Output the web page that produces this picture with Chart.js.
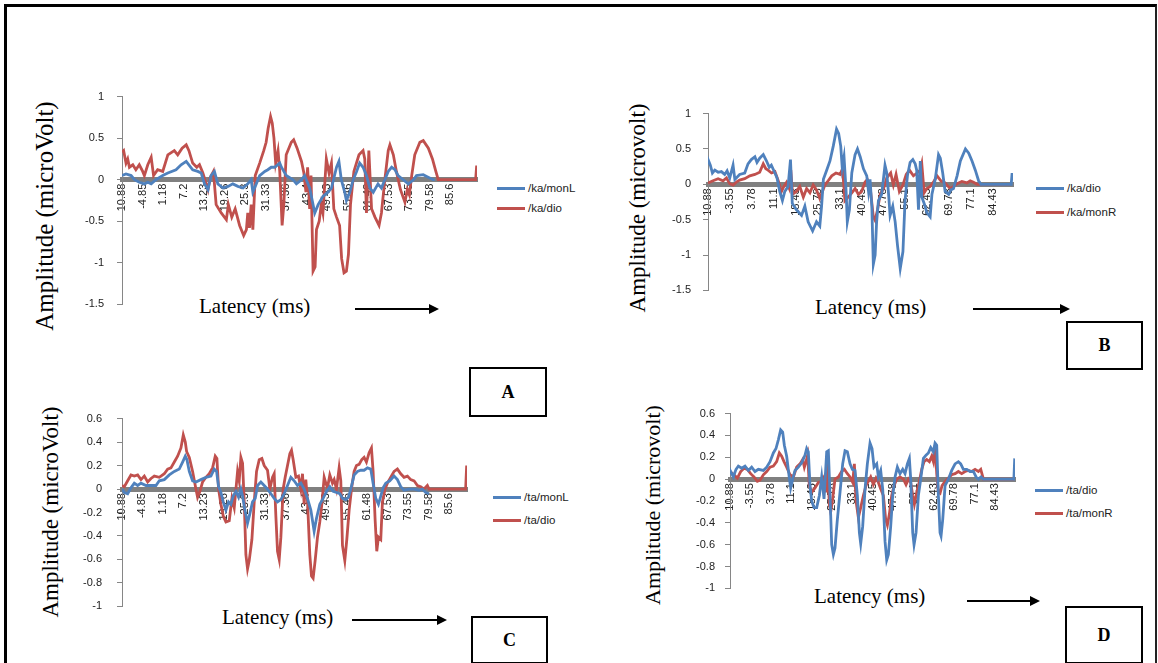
<!DOCTYPE html>
<html><head><meta charset="utf-8">
<script src="https://cdn.jsdelivr.net/npm/chart.js@4.4.1/dist/chart.umd.min.js"></script>
<style>
html,body{margin:0;padding:0;background:#fff;}
#page{position:relative;width:1158px;height:663px;overflow:hidden;background:#fff;}
.frame{position:absolute;left:4px;top:4px;width:1148px;height:720px;border-left:3px solid #000;border-top:3px solid #000;border-right:2px solid #222;}
canvas{position:absolute;}
.ytitle{position:absolute;font-family:"Liberation Serif","Times New Roman",serif;white-space:nowrap;line-height:1;color:#000;}
.xtitle{position:absolute;font-family:"Liberation Serif","Times New Roman",serif;font-size:21px;white-space:nowrap;line-height:1;color:#000;}
.arrow{position:absolute;height:2px;background:#000;}
.arrow:after{content:'';position:absolute;right:-9px;top:-4px;border-left:10px solid #000;border-top:5px solid transparent;border-bottom:5px solid transparent;}
.box{position:absolute;border:2px solid #000;font-family:"Liberation Serif","Times New Roman",serif;font-weight:bold;font-size:18px;display:flex;align-items:center;justify-content:center;box-sizing:border-box;background:#fff;}
.legrow{position:absolute;font-family:"Liberation Sans",Arial,sans-serif;font-size:11.5px;color:#222;white-space:nowrap;line-height:12px;}
.legrow span.sw{position:absolute;left:0;top:5px;width:28px;height:3px;}
.legrow span.tx{position:absolute;left:31px;top:0;}
</style></head>
<body><div id="page">
<div class="frame"></div>
</div>
<script>
// ---------- tick labels (category labels of the original chart) ----------
const ticksAC = ['-10.88','-4.85','1.18','7.2','13.23','19.26','25.3','31.33','37.36','43.4','49.43','55.46','61.48','67.53','73.55','79.58','85.6'];
const ticksBD = ['-10.88','-3.55','3.78','11.1','18.43','25.78','33.1','40.45','47.78','55.1','62.43','69.78','77.1','84.43'];

// ---------- series: [latency ms, amplitude µV] ----------
const kaMonL_A = [[-10.88,0.05],[-9.7,0.07],[-8.2,0.05],[-7.2,0.0],[-5.8,-0.03],[-4.3,-0.05],[-3.3,-0.03],[-2.3,-0.05],[-0.9,0.0],[1.1,0.05],[2.6,0.08],[5.0,0.12],[6.5,0.18],[8.0,0.22],[9.9,0.12],[11.4,0.1],[12.4,0.08],[13.4,-0.05],[14.4,-0.12],[15.3,0.05],[16.3,0.1],[17.3,-0.05],[18.8,-0.1],[20.3,-0.08],[21.7,-0.05],[23.2,-0.08],[24.7,-0.1],[26.1,-0.05],[27.1,0.0],[27.6,-0.15],[28.6,-0.05],[29.6,0.05],[31.1,0.1],[32.0,0.12],[33.0,0.15],[34.0,0.15],[35.5,0.2],[36.0,0.15],[37.4,0.05],[39.4,0.0],[40.4,-0.05],[41.9,0.0],[42.8,0.05],[44.3,-0.1],[45.8,-0.4],[46.8,-0.3],[48.2,-0.2],[49.7,-0.15],[50.7,-0.1],[52.2,0.15],[52.9,0.22],[53.6,0.0],[54.6,-0.15],[55.1,-0.25],[56.1,-0.15],[57.1,0.0],[58.1,0.1],[59.0,0.2],[60.0,0.15],[61.0,0.05],[62.0,-0.1],[63.0,-0.15],[64.4,-0.05],[65.4,-0.1],[66.4,0.0],[67.4,0.1],[68.4,0.15],[69.4,0.12],[70.3,0.05],[71.8,0.0],[73.3,-0.05],[74.8,0.0],[75.7,0.05],[77.7,0.06],[78.7,0.04],[80.6,0.0],[81.1,0.0]];
const kaDio_A = [[-10.88,0.33],[-10.4,0.35],[-9.7,0.2],[-9.2,0.25],[-8.7,0.15],[-7.7,0.18],[-6.8,0.12],[-5.8,0.18],[-4.8,0.1],[-4.3,0.05],[-3.3,0.18],[-2.3,0.27],[-1.6,0.05],[-0.4,0.12],[1.1,0.1],[2.6,0.3],[4.5,0.35],[5.5,0.3],[6.8,0.38],[8.0,0.42],[8.8,0.35],[9.9,0.2],[11.1,0.15],[11.9,0.18],[12.9,0.08],[14.4,-0.12],[15.0,0.02],[16.0,0.1],[16.8,-0.3],[18.3,-0.4],[19.8,-0.48],[20.4,-0.3],[21.4,-0.45],[22.4,-0.35],[23.7,-0.55],[24.9,-0.67],[25.7,-0.6],[26.1,-0.4],[26.6,-0.58],[27.1,-0.3],[27.6,-0.6],[28.3,0.05],[29.6,0.2],[30.8,0.35],[31.5,0.45],[32.1,0.62],[32.8,0.76],[33.3,0.68],[33.8,0.5],[34.3,0.2],[35.0,0.35],[35.5,0.1],[36.2,-0.55],[36.7,-0.3],[37.4,0.3],[38.9,0.45],[39.6,0.48],[40.6,0.38],[41.9,0.22],[42.6,0.08],[43.2,-0.15],[43.7,0.15],[44.3,-0.35],[44.7,0.05],[45.3,-1.1],[45.9,-1.05],[46.3,-0.6],[47.1,-0.5],[47.7,-0.3],[48.2,-0.4],[49.2,0.25],[50.0,0.08],[50.7,0.2],[51.4,-0.35],[52.2,-0.45],[53.1,-0.55],[53.7,-0.95],[54.4,-1.12],[55.1,-1.1],[55.7,-0.9],[56.3,-0.3],[57.3,0.1],[58.8,0.3],[60.0,0.35],[60.5,0.25],[61.0,-0.4],[61.7,0.35],[62.5,-0.35],[63.5,-0.45],[64.7,-0.55],[65.4,-0.4],[66.4,0.0],[67.4,0.35],[67.9,0.42],[68.9,0.3],[69.8,0.1],[71.0,-0.12],[72.3,-0.27],[73.0,-0.12],[73.6,-0.18],[74.3,0.05],[75.2,0.3],[76.7,0.45],[77.7,0.47],[79.2,0.38],[80.4,0.25],[81.4,0.1],[82.1,0.0],[93.1,0.0],[93.4,0.17]];

const kaDio_B = [[-10.88,0.3],[-10.66,0.33],[-10.1,0.27],[-9.4,0.16],[-8.6,0.2],[-7.5,0.17],[-6.4,0.18],[-5.3,0.14],[-4.5,0.19],[-3.6,0.09],[-2.5,0.27],[-1.9,0.07],[-0.3,0.14],[1.4,0.16],[2.5,0.29],[3.6,0.35],[4.8,0.39],[5.5,0.31],[6.4,0.37],[7.6,0.42],[8.7,0.33],[9.6,0.24],[10.3,0.27],[11.5,0.16],[12.2,0.09],[13.1,-0.1],[14.0,-0.23],[14.8,-0.1],[15.9,-0.03],[16.7,0.35],[17.3,-0.27],[18.7,-0.36],[20.4,-0.44],[21.5,-0.31],[22.6,-0.53],[24.1,-0.66],[25.4,-0.53],[26.5,-0.59],[27.1,-0.31],[27.7,0.07],[28.8,0.2],[29.9,0.33],[31.0,0.54],[32.1,0.78],[32.8,0.72],[33.5,0.54],[34.0,0.24],[34.6,0.39],[35.3,-0.1],[35.7,-0.53],[36.4,-0.36],[37.2,0.16],[38.3,0.42],[39.1,0.5],[40.0,0.39],[41.1,0.22],[42.2,0.12],[42.8,-0.1],[43.3,0.07],[43.9,-0.31],[44.4,-1.13],[45.0,-1.0],[45.5,-0.53],[46.1,-0.23],[47.2,-0.14],[48.3,0.27],[48.9,0.16],[49.5,-0.14],[50.0,-0.44],[50.9,-0.31],[51.7,-0.53],[52.5,-0.87],[53.4,-1.19],[54.3,-0.95],[55.0,-0.23],[55.8,0.12],[56.7,0.31],[57.6,0.35],[58.4,0.29],[58.9,0.2],[59.5,-0.36],[60.1,0.33],[60.6,-0.18],[61.4,-0.27],[62.3,-0.4],[63.4,-0.46],[64.0,-0.14],[65.1,0.07],[66.2,0.42],[66.8,0.37],[67.6,0.16],[68.4,-0.1],[69.6,-0.14],[70.3,-0.08],[71.2,-0.06],[72.4,0.12],[73.5,0.33],[75.2,0.5],[76.3,0.44],[77.4,0.33],[78.5,0.2],[79.6,0.05],[80.4,0.0],[90.5,0.0],[90.8,0.16]];
const kaMonR_B = [[-10.88,0.02],[-10.66,0.02],[-9.2,0.05],[-7.5,0.08],[-5.85,0.05],[-4.7,0.09],[-3.6,0.01],[-2.5,-0.01],[-1.4,0.03],[-0.3,0.06],[1.4,0.08],[3.1,0.12],[4.8,0.14],[6.4,0.17],[7.6,0.29],[8.45,0.22],[9.2,0.2],[10.35,0.16],[11.5,0.18],[12.6,0.05],[13.7,-0.1],[14.5,-0.03],[15.4,0.03],[16.3,-0.06],[16.8,0.2],[17.4,-0.14],[18.7,-0.1],[19.8,-0.03],[21.0,-0.18],[22.1,-0.06],[23.2,-0.12],[24.3,-0.01],[25.4,-0.08],[26.5,-0.2],[27.4,-0.1],[28.2,-0.01],[29.3,0.05],[30.5,0.12],[31.9,0.16],[33.3,0.14],[34.1,0.22],[34.9,-0.23],[36.0,-0.18],[37.2,-0.12],[38.3,-0.06],[39.4,-0.14],[40.5,-0.1],[41.6,0.03],[42.4,0.07],[43.3,-0.03],[44.4,-0.46],[45.0,-0.51],[45.8,-0.36],[46.7,-0.14],[47.8,-0.06],[48.9,0.09],[50.2,0.16],[51.1,-0.01],[52.0,0.14],[53.1,-0.1],[54.3,-0.01],[55.4,0.14],[56.5,0.2],[57.8,0.12],[59.0,0.16],[60.1,0.2],[60.6,0.29],[61.4,-0.12],[62.3,-0.06],[63.4,-0.03],[64.5,0.03],[65.7,0.12],[67.0,0.05],[68.4,0.02],[70.1,-0.06],[71.2,-0.03],[72.4,0.01],[74.0,0.04],[75.7,0.02],[76.8,0.05],[77.9,0.03],[79.1,0.0],[81.3,0.0],[90.2,0.0]];

const taMonL_C = [[-10.88,0.0],[-10.19,-0.03],[-9.21,-0.04],[-8.23,0.01],[-7.25,0.05],[-6.26,0.03],[-5.28,0.05],[-3.81,0.03],[-2.33,0.03],[-0.86,0.03],[0.12,0.07],[1.6,0.08],[3.07,0.12],[4.55,0.15],[6.02,0.17],[7.0,0.23],[7.79,0.28],[8.28,0.25],[8.97,0.15],[9.95,0.07],[10.93,0.06],[12.4,0.08],[13.88,0.1],[15.35,0.11],[16.33,0.17],[17.02,0.15],[17.61,0.02],[18.3,-0.03],[18.99,-0.11],[19.78,-0.18],[20.56,-0.11],[21.25,-0.13],[21.93,-0.06],[22.72,-0.02],[23.51,-0.07],[24.19,0.0],[24.69,-0.06],[25.38,-0.18],[26.16,-0.29],[26.85,-0.21],[27.63,-0.11],[28.42,-0.08],[29.11,0.03],[30.09,0.06],[31.07,0.03],[32.05,0.0],[33.04,-0.04],[34.02,-0.08],[35.0,-0.11],[35.99,-0.09],[36.97,-0.04],[37.95,0.03],[38.93,0.1],[39.91,0.07],[40.9,0.03],[41.88,0.05],[42.86,0.0],[43.84,-0.08],[44.83,-0.18],[45.81,-0.36],[46.5,-0.25],[47.48,-0.13],[48.46,-0.08],[49.45,-0.02],[50.43,0.02],[51.41,-0.02],[52.39,-0.03],[53.38,-0.04],[54.16,-0.08],[55.14,-0.09],[55.93,-0.07],[56.62,0.0],[57.6,0.12],[58.58,0.15],[59.57,0.16],[60.55,0.16],[61.53,0.18],[62.51,0.17],[63.2,0.05],[63.99,-0.08],[64.77,-0.13],[65.46,-0.06],[66.15,0.01],[66.93,0.05],[68.11,0.07],[69.39,0.11],[70.37,0.08],[71.35,0.02],[72.33,-0.01],[73.81,0.0],[75.29,0.0],[76.76,-0.01],[77.74,0.0],[78.73,-0.03],[79.7,-0.04]];
const taDio_C = [[-10.88,0.03],[-10.19,0.02],[-9.21,0.07],[-8.23,0.12],[-7.25,0.11],[-6.26,0.12],[-5.28,0.08],[-4.3,0.11],[-3.31,0.06],[-2.33,0.09],[-1.35,0.11],[0.12,0.1],[1.6,0.13],[2.58,0.17],[3.56,0.18],[4.55,0.23],[5.53,0.28],[6.51,0.35],[7.2,0.46],[7.79,0.4],[8.18,0.32],[8.97,0.27],[9.95,0.15],[10.93,0.0],[11.42,-0.07],[12.11,-0.02],[12.9,0.06],[13.88,0.1],[14.86,0.13],[15.84,0.18],[16.63,0.28],[17.12,0.26],[17.61,0.0],[18.3,-0.13],[18.99,-0.23],[19.78,-0.28],[20.76,-0.27],[21.55,-0.08],[22.23,-0.16],[23.21,0.15],[23.7,0.07],[24.19,0.27],[24.69,0.22],[25.18,-0.11],[25.67,-0.56],[26.16,-0.68],[26.65,-0.61],[27.44,-0.43],[28.13,-0.11],[28.81,0.15],[29.6,0.25],[30.38,0.26],[31.07,0.2],[32.05,0.16],[32.74,0.0],[33.53,0.1],[34.02,0.13],[34.51,-0.23],[35.0,-0.53],[35.5,-0.6],[35.99,-0.41],[36.67,0.0],[37.26,0.1],[37.95,0.2],[38.64,0.3],[39.13,0.33],[39.62,0.25],[40.41,0.1],[41.19,0.11],[41.88,0.0],[42.37,0.13],[42.86,-0.13],[43.35,0.08],[43.84,-0.1],[44.53,-0.56],[45.02,-0.74],[45.51,-0.76],[46.1,-0.61],[46.79,-0.41],[47.48,-0.28],[48.07,-0.13],[48.76,0.1],[49.25,0.05],[49.74,0.01],[50.43,0.12],[51.21,0.05],[51.71,0.08],[52.39,0.0],[53.18,0.18],[53.67,0.07],[54.16,-0.48],[54.85,-0.61],[55.44,-0.43],[56.13,-0.18],[56.91,0.02],[57.6,0.15],[58.29,0.2],[59.07,0.21],[59.86,0.25],[60.55,0.27],[61.23,0.23],[62.02,0.31],[62.71,0.35],[63.2,0.15],[63.79,-0.26],[64.28,-0.53],[64.77,-0.41],[65.46,-0.43],[65.95,-0.11],[66.73,0.0],[67.42,0.05],[68.41,0.1],[69.39,0.15],[70.37,0.17],[71.35,0.13],[72.33,0.1],[73.32,0.11],[74.3,0.08],[75.29,0.07],[76.27,0.03],[77.25,0.02],[78.23,0.0],[79.21,0.03],[79.7,0.0],[90.5,0.0],[90.8,0.2]];

const taDio_D = [[-10.88,0.06],[-10.64,0.07],[-9.68,0.02],[-8.72,0.09],[-7.88,0.12],[-6.68,0.1],[-5.48,0.12],[-4.29,0.08],[-3.09,0.11],[-1.89,0.07],[-0.69,0.09],[1.11,0.08],[2.31,0.11],[3.51,0.16],[4.71,0.24],[5.66,0.28],[6.5,0.36],[7.34,0.45],[8.06,0.43],[8.66,0.31],[9.5,0.21],[10.46,0.01],[10.94,-0.08],[11.66,0.0],[12.5,0.08],[13.7,0.11],[14.9,0.15],[16.1,0.22],[16.7,0.28],[17.29,0.25],[17.89,-0.06],[18.49,-0.2],[19.33,-0.26],[20.29,-0.26],[21.25,-0.15],[22.09,0.02],[22.93,-0.18],[23.89,0.25],[24.49,0.26],[25.09,-0.15],[25.69,-0.6],[26.29,-0.69],[26.88,-0.63],[27.72,-0.37],[28.68,-0.12],[29.64,0.14],[30.48,0.26],[31.32,0.25],[32.28,0.14],[33.12,0.09],[34.08,0.08],[34.92,-0.15],[35.64,-0.49],[36.12,-0.59],[36.84,-0.43],[37.68,-0.09],[38.51,0.14],[39.47,0.33],[40.19,0.28],[40.91,0.11],[41.87,0.14],[42.47,0.02],[43.31,0.08],[44.03,-0.09],[44.87,-0.57],[45.47,-0.74],[46.07,-0.69],[46.91,-0.43],[47.63,-0.15],[48.47,0.02],[49.3,0.11],[50.26,0.05],[51.22,0.09],[52.06,0.05],[52.9,0.14],[53.62,0.19],[54.1,0.0],[54.82,-0.49],[55.3,-0.6],[56.02,-0.49],[56.86,-0.15],[57.7,0.0],[58.66,0.19],[59.61,0.22],[60.45,0.24],[61.29,0.29],[62.25,0.25],[62.85,0.33],[63.45,0.31],[64.05,-0.15],[64.65,-0.49],[65.01,-0.52],[65.61,-0.37],[66.45,-0.06],[67.65,0.0],[68.85,0.08],[70.05,0.14],[71.24,0.16],[72.08,0.14],[73.04,0.09],[74.24,0.09],[75.44,0.07],[76.64,0.07],[77.6,0.02],[78.44,0.0],[79.4,0.02],[80.24,0.0],[91.2,0.0],[91.5,0.19]];
const taMonR_D = [[-10.88,0.07],[-10.64,0.07],[-9.44,0.04],[-8.24,0.01],[-7.04,0.07],[-5.85,0.1],[-4.65,0.09],[-3.45,0.05],[-2.25,0.02],[-1.05,-0.02],[-0.09,-0.01],[1.11,0.04],[2.31,0.07],[3.51,0.11],[4.71,0.12],[5.9,0.16],[6.86,0.24],[7.7,0.21],[8.54,0.16],[9.5,0.11],[10.7,0.04],[11.9,0.02],[13.1,0.11],[14.3,0.14],[15.26,0.18],[15.86,0.11],[16.46,0.16],[17.05,0.22],[17.65,-0.06],[18.49,-0.12],[19.69,-0.08],[20.89,-0.03],[22.09,-0.02],[22.93,0.02],[23.65,-0.12],[24.13,0.15],[24.85,-0.23],[25.33,-0.3],[25.93,-0.2],[26.88,0.0],[28.08,0.02],[29.28,0.07],[30.24,0.09],[31.32,0.05],[32.28,0.02],[33.24,-0.03],[33.84,0.14],[34.44,-0.2],[35.28,-0.35],[36.12,-0.26],[37.08,-0.15],[38.03,-0.06],[38.87,-0.02],[39.71,0.02],[40.67,-0.05],[41.63,0.01],[42.47,-0.03],[43.31,-0.09],[44.27,-0.15],[45.11,-0.37],[45.71,-0.42],[46.43,-0.32],[47.27,-0.15],[48.11,-0.06],[49.07,0.0],[50.26,0.02],[51.46,0.0],[52.42,-0.05],[53.26,0.0],[54.1,-0.03],[54.82,-0.15],[55.42,-0.23],[56.26,-0.12],[57.22,-0.02],[58.06,0.09],[58.9,0.16],[59.85,0.18],[60.81,0.16],[61.65,0.21],[62.25,0.16],[62.85,0.31],[63.45,0.05],[64.05,-0.12],[64.65,-0.13],[65.37,-0.06],[66.45,-0.02],[67.65,0.01],[68.85,0.04],[70.05,0.05],[71.24,0.07],[72.44,0.05],[73.64,0.07],[74.84,0.08],[76.04,0.07],[77.24,0.09],[78.44,0.07],[79.28,0.09],[80.24,0.0],[91.2,0.0]];

const BLUE = '#4F81BD', RED = '#C0504D';

// ---------- panel definitions (layout only) ----------
const panels = [
  {id:'A', box:[62,77,425,247], xMax:93.5, yMin:-1.5, yMax:1, yStep:0.5, ticks:ticksAC, yPad:13,
   series:[{name:'/ka/monL', data:kaMonL_A, color:BLUE},{name:'/ka/dio', data:kaDio_A, color:RED}],
   ytitle:'Amplitude (microVolt)', yt:[44,216,25], xt:[199,296], arrow:[355,308,75], legend:[497,182,20], label:[469,367,78,50]},
  {id:'B', box:[648,95,375,214], xMax:91.1, yMin:-1.5, yMax:1, yStep:0.5, ticks:ticksBD, yPad:12,
   series:[{name:'/ka/dio', data:kaDio_B, color:BLUE},{name:'/ka/monR', data:kaMonR_B, color:RED}],
   ytitle:'Amplitude (microvolt)', yt:[637,208,23], xt:[815,297], arrow:[973,308,88], legend:[1036,182,24], label:[1066,321,77,49]},
  {id:'C', box:[62,397,415,231], xMax:90.9, yMin:-1, yMax:0.6, yStep:0.2, ticks:ticksAC, yPad:15,
   series:[{name:'/ta/monL', data:taMonL_C, color:BLUE},{name:'/ta/dio', data:taDio_C, color:RED}],
   ytitle:'Amplitude (microVolt)', yt:[50,512,23], xt:[222,607], arrow:[352,619,86], legend:[493,491,23], label:[471,616,77,48]},
  {id:'D', box:[670,397,355,208], xMax:91.6, yMin:-1, yMax:0.6, yStep:0.2, ticks:ticksBD, yPad:10,
   series:[{name:'/ta/dio', data:taDio_D, color:BLUE},{name:'/ta/monR', data:taMonR_D, color:RED}],
   ytitle:'Amplitude (microvolt)', yt:[653,505,22], xt:[814,586], arrow:[967,600,64], legend:[1035,484,23], label:[1065,606,78,58]}
];

Chart.defaults.font.family = '"Liberation Sans", Arial, sans-serif';
const page = document.getElementById('page');

function el(cls, css, text){
  const d = document.createElement('div');
  d.className = cls; Object.assign(d.style, css);
  if (text !== undefined) d.textContent = text;
  page.appendChild(d); return d;
}

panels.forEach(p => {
  el('ytitle', {left:p.yt[0]+'px', top:p.yt[1]+'px', fontSize:p.yt[2]+'px', transform:'translate(-50%,-50%) rotate(-90deg)'}, p.ytitle);
  el('xtitle', {left:p.xt[0]+'px', top:p.xt[1]+'px'}, 'Latency (ms)');
  el('arrow', {left:p.arrow[0]+'px', top:p.arrow[1]+'px', width:p.arrow[2]+'px'});
  p.series.forEach((s, i) => {
    const r = el('legrow', {left:p.legend[0]+'px', top:(p.legend[1] + i*p.legend[2])+'px', width:'90px', height:'14px'});
    const sw = document.createElement('span'); sw.className='sw'; sw.style.background = s.color; r.appendChild(sw);
    const tx = document.createElement('span'); tx.className='tx'; tx.textContent = s.name; r.appendChild(tx);
  });
  el('box', {left:p.label[0]+'px', top:p.label[1]+'px', width:p.label[2]+'px', height:p.label[3]+'px'}, p.id);

  const cv = document.createElement('canvas');
  cv.width = p.box[2]; cv.height = p.box[3];
  Object.assign(cv.style, {left:p.box[0]+'px', top:p.box[1]+'px', width:p.box[2]+'px', height:p.box[3]+'px'});
  page.appendChild(cv);

  new Chart(cv.getContext('2d'), {
    type: 'line',
    data: {
      datasets: p.series.map(s => ({
        label: s.name,
        data: s.data.map(d => ({x: d[0], y: d[1]})),
        borderColor: s.color, backgroundColor: s.color,
        borderWidth: 2.8, pointRadius: 0, tension: 0, fill: false
      }))
    },
    options: {
      responsive: false, animation: false, devicePixelRatio: 1,
      layout: {padding: {left: 15, right: 10, top: 10, bottom: 10}},
      plugins: {legend: {display: false}, tooltip: {enabled: false}},
      scales: {
        x: {
          type: 'linear', min: -10.88, max: p.xMax, position: {y: 0},
          afterBuildTicks: sc => { sc.ticks = p.ticks.map(t => ({value: parseFloat(t)})); },
          ticks: {autoSkip: false, minRotation: 90, maxRotation: 90, padding: 4, color: '#222',
                  font: {size: 11}, callback: (v, i) => p.ticks[i]},
          grid: {display: true, drawOnChartArea: false, drawTicks: false, color: 'rgba(0,0,0,0)'},
          border: {display: true, color: '#808080', width: 5}
        },
        y: {
          type: 'linear', min: p.yMin, max: p.yMax,
          afterFit: sc => { sc.width = 45; },
          ticks: {stepSize: p.yStep, padding: p.yPad, color: '#222', font: {size: 11},
                  callback: v => String(parseFloat(Number(v).toFixed(2)))},
          grid: {drawOnChartArea: false, drawTicks: true, tickLength: 5, color: '#868686'},
          border: {display: true, color: '#868686', width: 1}
        }
      }
    }
  });
});
</script>
</body></html>
